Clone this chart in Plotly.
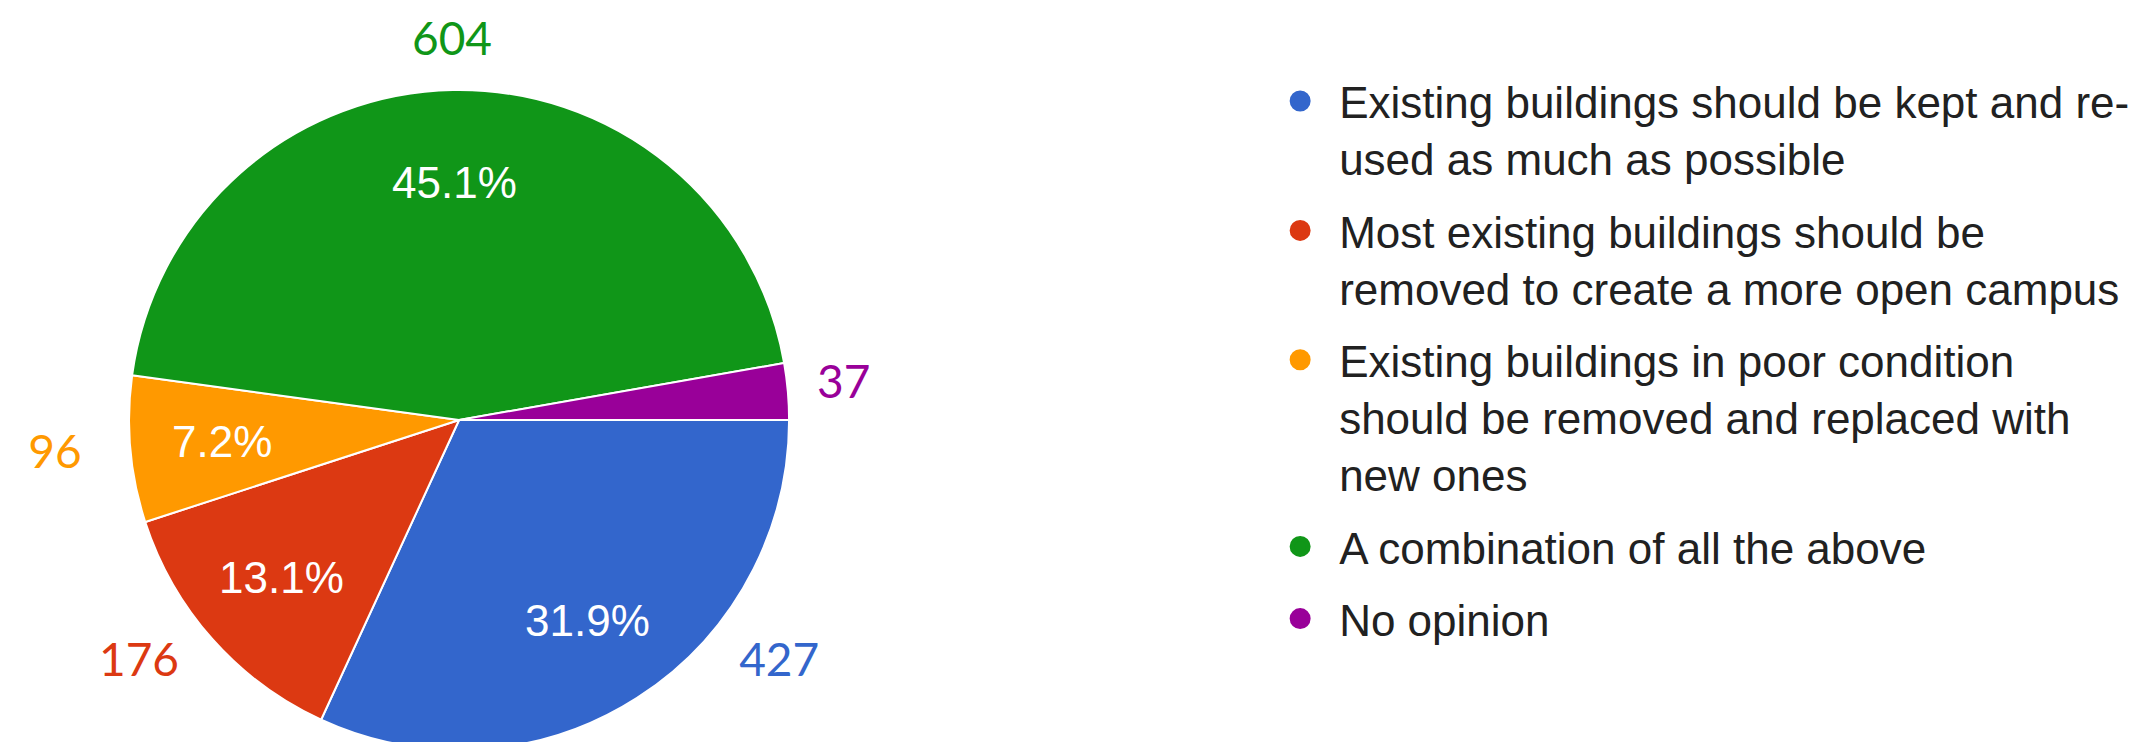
import math
import plotly.graph_objects as go

categories = [
    "Existing buildings should be kept and re-<br>used as much as possible",
    "Most existing buildings should be<br>removed to create a more open campus",
    "Existing buildings in poor condition<br>should be removed and replaced with<br>new ones",
    "A combination of all the above",
    "No opinion",
]
values = [427, 176, 96, 604, 37]
colors = ["#3366CC", "#DC3912", "#FF9900", "#109618", "#990099"]

W, H = 2148, 742
pie_dom_x = [0.0, 0.42]
pie_dom_y = [0.0, 0.8895]

# pie geometry in pixels (as plotly computes it) -> axis ranges in units of pie radius
r_px = min((pie_dom_x[1] - pie_dom_x[0]) * W, (pie_dom_y[1] - pie_dom_y[0]) * H) / 2
cx_px = (pie_dom_x[0] + pie_dom_x[1]) / 2 * W
cy_px = (pie_dom_y[0] + pie_dom_y[1]) / 2 * H  # from bottom
x_range = [-cx_px / r_px, (W - cx_px) / r_px]
y_range = [-cy_px / r_px, (H - cy_px) / r_px]

total = sum(values)
shares = [v / total for v in values]

# mid-angle of each slice: start at 3 o'clock, going clockwise
mids = []
acc = 0.0
for s in shares:
    mids.append(-2 * math.pi * (acc + s / 2))
    acc += s

# value labels outside the pie, kept inside the bottom of the figure
low_limit = -0.74
out_x, out_y = [], []
for a in mids:
    r = 1.14 + 0.06 * abs(math.cos(a)) - 0.03 * math.cos(a)
    x, y = r * math.cos(a), r * math.sin(a)
    if y < low_limit:
        y = low_limit
        x = math.copysign(math.sqrt(1.22 ** 2 - y ** 2), math.cos(a))
    out_x.append(x)
    out_y.append(y)

fig = go.Figure()

fig.add_trace(go.Pie(
    labels=categories, values=values, sort=False, direction="clockwise", rotation=90,
    marker=dict(colors=colors, line=dict(color="white", width=2)),
    textinfo="none", domain=dict(x=pie_dom_x, y=pie_dom_y), showlegend=False,
    hoverinfo="label+value+percent",
))

fig.add_trace(go.Scatter(
    x=out_x, y=out_y, text=[str(v) for v in values], mode="text", textposition="middle center",
    textfont=dict(family="Lato, Noto Sans", size=46, color=colors),
    showlegend=False, hoverinfo="skip", cliponaxis=False,
))

# percentage labels inside the slices (slices of 5% or more), drawn above the pie
for s, a in zip(shares, mids):
    if s >= 0.05:
        fig.add_annotation(
            x=0.72 * math.cos(a), y=0.72 * math.sin(a), xref="x", yref="y",
            text=f"{s * 100:.1f}%", showarrow=False,
            font=dict(family="Liberation Sans, Arial", size=44, color="white"),
        )

# legend entries with circle markers
for name, c in zip(categories, colors):
    fig.add_trace(go.Scatter(
        x=[None], y=[None], mode="markers", name=name, legendgroup=name,
        marker=dict(symbol="circle", size=16, color=c, line=dict(color=c, width=5)),
    ))

fig.update_layout(
    width=W, height=H,
    margin=dict(l=0, r=0, t=0, b=0, autoexpand=False),
    paper_bgcolor="white", plot_bgcolor="white",
    xaxis=dict(visible=False, range=x_range, domain=[0, 1], fixedrange=True),
    yaxis=dict(visible=False, range=y_range, domain=[0, 1], fixedrange=True),
    legend=dict(
        x=0.5834, y=0.922, xanchor="left", yanchor="top", valign="top",
        font=dict(family="Liberation Sans, Arial", size=44, color="#212121"),
        itemwidth=68, tracegroupgap=12, bgcolor="rgba(0,0,0,0)",
    ),
)

fig.write_html("out.html")
